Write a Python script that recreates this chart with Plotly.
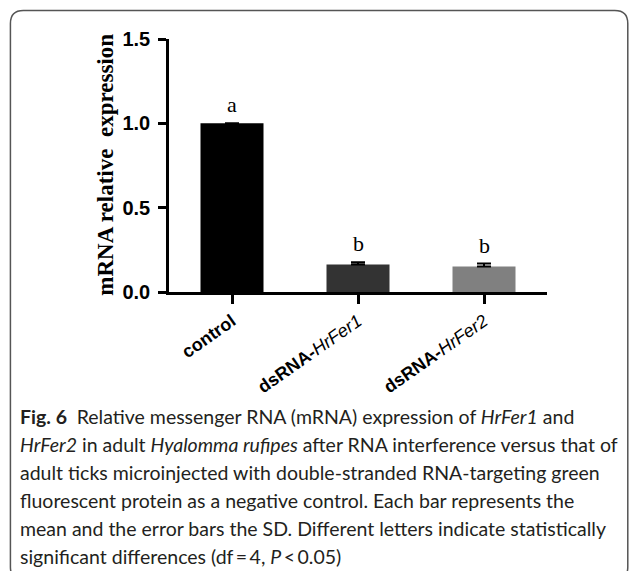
import plotly.graph_objects as go

categories = ["control", "dsRNA-HrFer1", "dsRNA-HrFer2"]
tick_labels = ["<b>control</b>", "<b>dsRNA-</b><i>HrFer1</i>", "<b>dsRNA-</b><i>HrFer2</i>"]
means = [1.0, 0.163, 0.151]
sd = [None, 0.013, 0.018]
letters = ["a", "b", "b"]
bar_colors = ["#000000", "#333333", "#808080"]
y_ticks = [0.0, 0.5, 1.0, 1.5]

caption_lines = [
    "<b>Fig. 6</b>\u2002Relative messenger RNA (mRNA) expression of <i>HrFer1</i> and",
    "<i>HrFer2</i> in adult <i>Hyalomma rufipes</i> after RNA interference versus that of",
    "adult ticks microinjected with double-stranded RNA-targeting green",
    "fluorescent protein as a negative control. Each bar represents the",
    "mean and the error bars the SD. Different letters indicate statistically",
    "significant differences (df\u2009=\u20094, <i>P</i>\u2009&lt;\u20090.05)",
]

W, H = 629, 571
L, R, T, B = 168.5, 81.5, 39, 279
PW = W - L - R
PH = H - T - B

def px(X):
    return (X - L) / PW

def py(Y):
    return (H - B - Y) / PH

fig = go.Figure()
fig.add_trace(go.Bar(
    x=list(range(len(categories))), y=means, width=0.5,
    marker=dict(color=bar_colors, line=dict(width=0)),
    error_y=dict(type="data", array=sd, arrayminus=[0] * len(sd), symmetric=False,
                 color="#000000", thickness=2, width=7),
    showlegend=False,
))

for i, (m, s, lt) in enumerate(zip(means, sd, letters)):
    fig.add_annotation(x=i, y=m + (s or 0), xref="x", yref="y", text=lt, showarrow=False,
                       yanchor="bottom", yshift=4,
                       font=dict(family="Liberation Serif", size=22, color="#000"))

fig.add_annotation(x=px(104), y=py(165), xref="paper", yref="paper",
                   text="<b>mRNA relative  expression</b>", textangle=-90, showarrow=False,
                   xanchor="center", yanchor="middle",
                   font=dict(family="Liberation Serif", size=23, color="#000"))

cap_y = [416, 444, 472, 500, 528, 556]
for line, Y in zip(caption_lines, cap_y):
    fig.add_annotation(x=px(17), y=py(Y), xref="paper", yref="paper", text=line,
                       showarrow=False, xanchor="left", yanchor="middle",
                       font=dict(family="Lato", size=19.5, color="#231f20"))

# rounded frame
x0, y0, x1, y1, r = 9.5, 10.5, 628.5, 580, 13
path = (f"M {px(x0)},{py(y0 + r)} Q {px(x0)},{py(y0)} {px(x0 + r)},{py(y0)} "
        f"L {px(x1 - r)},{py(y0)} Q {px(x1)},{py(y0)} {px(x1)},{py(y0 + r)} "
        f"L {px(x1)},{py(y1 - r)} Q {px(x1)},{py(y1)} {px(x1 - r)},{py(y1)} "
        f"L {px(x0 + r)},{py(y1)} Q {px(x0)},{py(y1)} {px(x0)},{py(y1 - r)} Z")
fig.add_shape(type="path", path=path, xref="paper", yref="paper",
              line=dict(color="#555555", width=1.5), layer="below")

fig.update_layout(
    width=W, height=H, margin=dict(l=L, r=R, t=T, b=B, autoexpand=False),
    plot_bgcolor="white", paper_bgcolor="white", bargap=0.5,
    xaxis=dict(range=[-0.5, 2.5], tickmode="array", tickvals=list(range(len(categories))),
               ticktext=tick_labels, tickangle=-35, showline=True, linecolor="#000",
               linewidth=2.5, ticks="outside", ticklen=9, tickwidth=2.5, tickcolor="#000",
               showgrid=False, zeroline=False,
               tickfont=dict(family="Liberation Sans", size=18, color="#000")),
    yaxis=dict(range=[0, 1.5], tickmode="array", tickvals=y_ticks, tickformat=".1f",
               showline=True, linecolor="#000", linewidth=2.5, ticks="outside",
               ticklen=8, tickwidth=2.5, tickcolor="#000", showgrid=False, zeroline=False,
               ticklabelstandoff=4,
               tickfont=dict(family="Liberation Sans", size=20, color="#000", weight="bold")),
)

fig.write_html("out.html")
